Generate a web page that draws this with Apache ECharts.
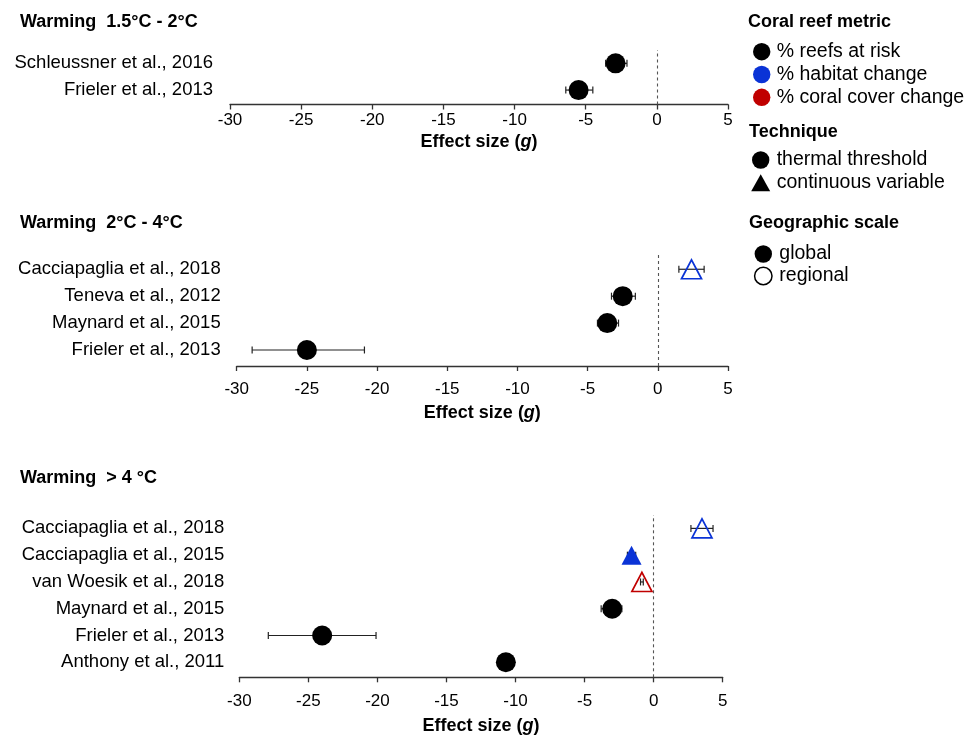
<!DOCTYPE html>
<html><head><meta charset="utf-8">
<script src="https://cdn.jsdelivr.net/npm/echarts@6/dist/echarts.min.js"></script>
<style>html,body{margin:0;padding:0;background:#fff}#c{width:969px;height:737px}</style>
</head><body><div id="c"></div>
<script>
// ---------- data ----------
const xTicks = [-30, -25, -20, -15, -10, -5, 0, 5];
const panelTitles = ['Warming  1.5°C - 2°C', 'Warming  2°C - 4°C', 'Warming  > 4 °C'];
const axisTitleParts = ['Effect size (', 'g', ')'];

// Panel 1 (rows listed top to bottom)
const p1Studies   = ['Schleussner et al., 2016', 'Frieler et al., 2013'];
const p1Effect    = [-2.9, -5.5];
const p1Low       = [-3.6, -6.4];
const p1High      = [-2.1, -4.5];
const p1Metric    = ['risk', 'risk'];
const p1Technique = ['threshold', 'threshold'];
const p1Scale     = ['global', 'global'];

// Panel 2
const p2Studies   = ['Cacciapaglia et al., 2018', 'Teneva et al., 2012', 'Maynard et al., 2015', 'Frieler et al., 2013'];
const p2Effect    = [2.4, -2.5, -3.6, -25.0];
const p2Low       = [1.5, -3.3, -4.3, -28.9];
const p2High      = [3.3, -1.6, -2.8, -20.9];
const p2Metric    = ['habitat', 'risk', 'risk', 'risk'];
const p2Technique = ['continuous', 'threshold', 'threshold', 'threshold'];
const p2Scale     = ['regional', 'global', 'global', 'global'];

// Panel 3
const p3Studies   = ['Cacciapaglia et al., 2018', 'Cacciapaglia et al., 2015', 'van Woesik et al., 2018', 'Maynard et al., 2015', 'Frieler et al., 2013', 'Anthony et al., 2011'];
const p3Effect    = [3.5, -1.6, -0.85, -3.0, -24.0, -10.7];
const p3Low       = [2.7, -1.9, -0.95, -3.8, -27.9, null];
const p3High      = [4.3, -1.3, -0.75, -2.3, -20.1, null];
const p3Metric    = ['habitat', 'habitat', 'cover', 'risk', 'risk', 'risk'];
const p3Technique = ['continuous', 'continuous', 'continuous', 'threshold', 'threshold', 'threshold'];
const p3Scale     = ['regional', 'global', 'regional', 'global', 'global', 'global'];

// Legend texts
const legendMetricTitle = 'Coral reef metric';
const legendMetricLabels = ['% reefs at risk', '% habitat change', '% coral cover change'];
const legendTechTitle = 'Technique';
const legendTechLabels = ['thermal threshold', 'continuous variable'];
const legendScaleTitle = 'Geographic scale';
const legendScaleLabels = ['global', 'regional'];

// ---------- styles ----------
const FONT = "'Liberation Sans', Arial, Helvetica, sans-serif";
const metricColor = { risk: '#000000', habitat: '#0a33d6', cover: '#c00000' };
const AXIS_COL = '#333333';

const panels = [
  { studies: p1Studies, eff: p1Effect, lo: p1Low, hi: p1High, met: p1Metric, tech: p1Technique, sc: p1Scale,
    grid: { left: 230, right: 241, top: 50, height: 54.5 }, yMin: -0.54, yMax: 1.5, labMargin: 7, nameGap: 29, yMargin: 17, titleTop: 12 },
  { studies: p2Studies, eff: p2Effect, lo: p2Low, hi: p2High, met: p2Metric, tech: p2Technique, sc: p2Scale,
    grid: { left: 236.7, right: 241, top: 255, height: 111 }, yMin: -0.595, yMax: 3.53, labMargin: 14.5, nameGap: 38, yMargin: 16, titleTop: 213 },
  { studies: p3Studies, eff: p3Effect, lo: p3Low, hi: p3High, met: p3Metric, tech: p3Technique, sc: p3Scale,
    grid: { left: 239.3, right: 246.3, top: 515, height: 162.3 }, yMin: -0.56, yMax: 5.5, labMargin: 15.5, nameGap: 40, yMargin: 15, titleTop: 468 }
];

function errRender(params, api) {
  const lo = api.value(0), hi = api.value(1), y = api.value(2);
  const a = api.coord([lo, y]), b = api.coord([hi, y]);
  const c = 3.5;
  const st = { stroke: '#222', lineWidth: 1.2 };
  return { type: 'group', children: [
    { type: 'line', shape: { x1: a[0], y1: a[1], x2: b[0], y2: b[1] }, style: st },
    { type: 'line', shape: { x1: a[0], y1: a[1] - c, x2: a[0], y2: a[1] + c }, style: st },
    { type: 'line', shape: { x1: b[0], y1: b[1] - c, x2: b[0], y2: b[1] + c }, style: st }
  ]};
}

const grids = [], xAxes = [], yAxes = [], series = [], titles = [];
panels.forEach((p, k) => {
  const n = p.studies.length;
  grids.push(p.grid);
  titles.push({ text: panelTitles[k], left: 20, top: p.titleTop, padding: 0,
    textStyle: { fontFamily: FONT, fontSize: 18, fontWeight: 'bold', color: '#000', lineHeight: 20 } });
  xAxes.push({
    gridIndex: k, type: 'value', min: xTicks[0], max: xTicks[xTicks.length - 1], interval: xTicks[1] - xTicks[0],
    axisLine: { show: true, onZero: false, lineStyle: { color: AXIS_COL, width: 1.3 } },
    axisTick: { show: true, length: 5, lineStyle: { color: AXIS_COL, width: 1.3 } },
    splitLine: { show: false },
    axisLabel: { fontFamily: FONT, fontSize: 17, color: '#000', margin: p.labMargin },
    name: '{b|' + axisTitleParts[0] + '}{i|' + axisTitleParts[1] + '}{b|' + axisTitleParts[2] + '}',
    nameLocation: 'middle', nameGap: p.nameGap,
    nameTextStyle: { rich: {
      b: { fontFamily: FONT, fontSize: 18, fontWeight: 'bold', color: '#000' },
      i: { fontFamily: FONT, fontSize: 18, fontWeight: 'bold', fontStyle: 'italic', color: '#000' } } }
  });
  const rows = p.studies.map((s, i) => n - 1 - i);
  yAxes.push({
    gridIndex: k, type: 'value', min: p.yMin, max: p.yMax,
    axisLine: { show: false, onZero: false }, axisTick: { show: false }, splitLine: { show: false },
    axisLabel: { show: true, customValues: rows.slice().reverse(), margin: p.yMargin,
      fontFamily: FONT, fontSize: 18.5, color: '#000',
      formatter: v => p.studies[n - 1 - Math.round(v)] }
  });
  const errData = [];
  p.studies.forEach((s, i) => {
    if (p.lo[i] != null && p.hi[i] != null) errData.push([p.lo[i], p.hi[i], rows[i]]);
  });
  series.push({
    type: 'custom', xAxisIndex: k, yAxisIndex: k, renderItem: errRender, z: 2,
    encode: { x: [0, 1], y: 2 }, data: errData, silent: true
  });
  const pts = p.studies.map((s, i) => {
    const col = metricColor[p.met[i]];
    const tri = p.tech[i] === 'continuous';
    const filled = p.sc[i] === 'global';
    return {
      name: s, value: [p.eff[i], rows[i]],
      symbol: tri ? 'triangle' : 'circle',
      symbolSize: tri ? [20, 19] : 20,
      itemStyle: { opacity: 1, color: filled ? col : 'rgba(255,255,255,0)', borderColor: col, borderWidth: filled ? 0 : 1.7 }
    };
  });
  series.push({
    type: 'scatter', xAxisIndex: k, yAxisIndex: k, z: 3, data: pts, silent: true,
    itemStyle: { opacity: 1 },
    markLine: { silent: true, symbol: ['none', 'none'], label: { show: false }, z: 1,
      lineStyle: { type: [3, 3], color: '#555', width: 1.1 }, data: [{ xAxis: 0 }] }
  });
});

// ---------- legend graphics ----------
const g = [];
function txt(x, y, s, bold, size) {
  g.push({ type: 'text', x: x, y: y, silent: true,
    style: { text: s, x: 0, y: 0, fill: '#000', font: (bold ? 'bold ' : '') + size + 'px ' + FONT,
      textVerticalAlign: 'middle', verticalAlign: 'middle', textAlign: 'left', align: 'left' } });
}
function circ(cx, cy, fill, stroke) {
  g.push({ type: 'circle', silent: true, shape: { cx: cx, cy: cy, r: 8.7 },
    style: { fill: fill, stroke: stroke || null, lineWidth: stroke ? 1.5 : 0 } });
}
txt(748, 22, legendMetricTitle, true, 18);
const mcols = [metricColor.risk, metricColor.habitat, metricColor.cover];
const mY = [51.7, 74.5, 97.3];
legendMetricLabels.forEach((s, i) => { circ(761.7, mY[i], mcols[i]); txt(776.7, mY[i], s, false, 19.5); });
txt(749, 131.7, legendTechTitle, true, 18);
circ(760.7, 160, '#000'); txt(776.7, 160, legendTechLabels[0], false, 19.5);
g.push({ type: 'polygon', silent: true, shape: { points: [[751.2, 191.2], [770.2, 191.2], [760.7, 174.2]] }, style: { fill: '#000' } });
txt(776.7, 182.7, legendTechLabels[1], false, 19.5);
txt(749, 223.3, legendScaleTitle, true, 18);
circ(763.3, 254, '#000'); txt(779.3, 254, legendScaleLabels[0], false, 19.5);
circ(763.3, 276, '#fff', '#000'); txt(779.3, 276, legendScaleLabels[1], false, 19.5);

const chart = echarts.init(document.getElementById('c'), null, { renderer: 'canvas' });
chart.setOption({
  animation: false,
  backgroundColor: '#fff',
  title: titles,
  grid: grids,
  xAxis: xAxes,
  yAxis: yAxes,
  series: series,
  graphic: g
});
</script></body></html>
